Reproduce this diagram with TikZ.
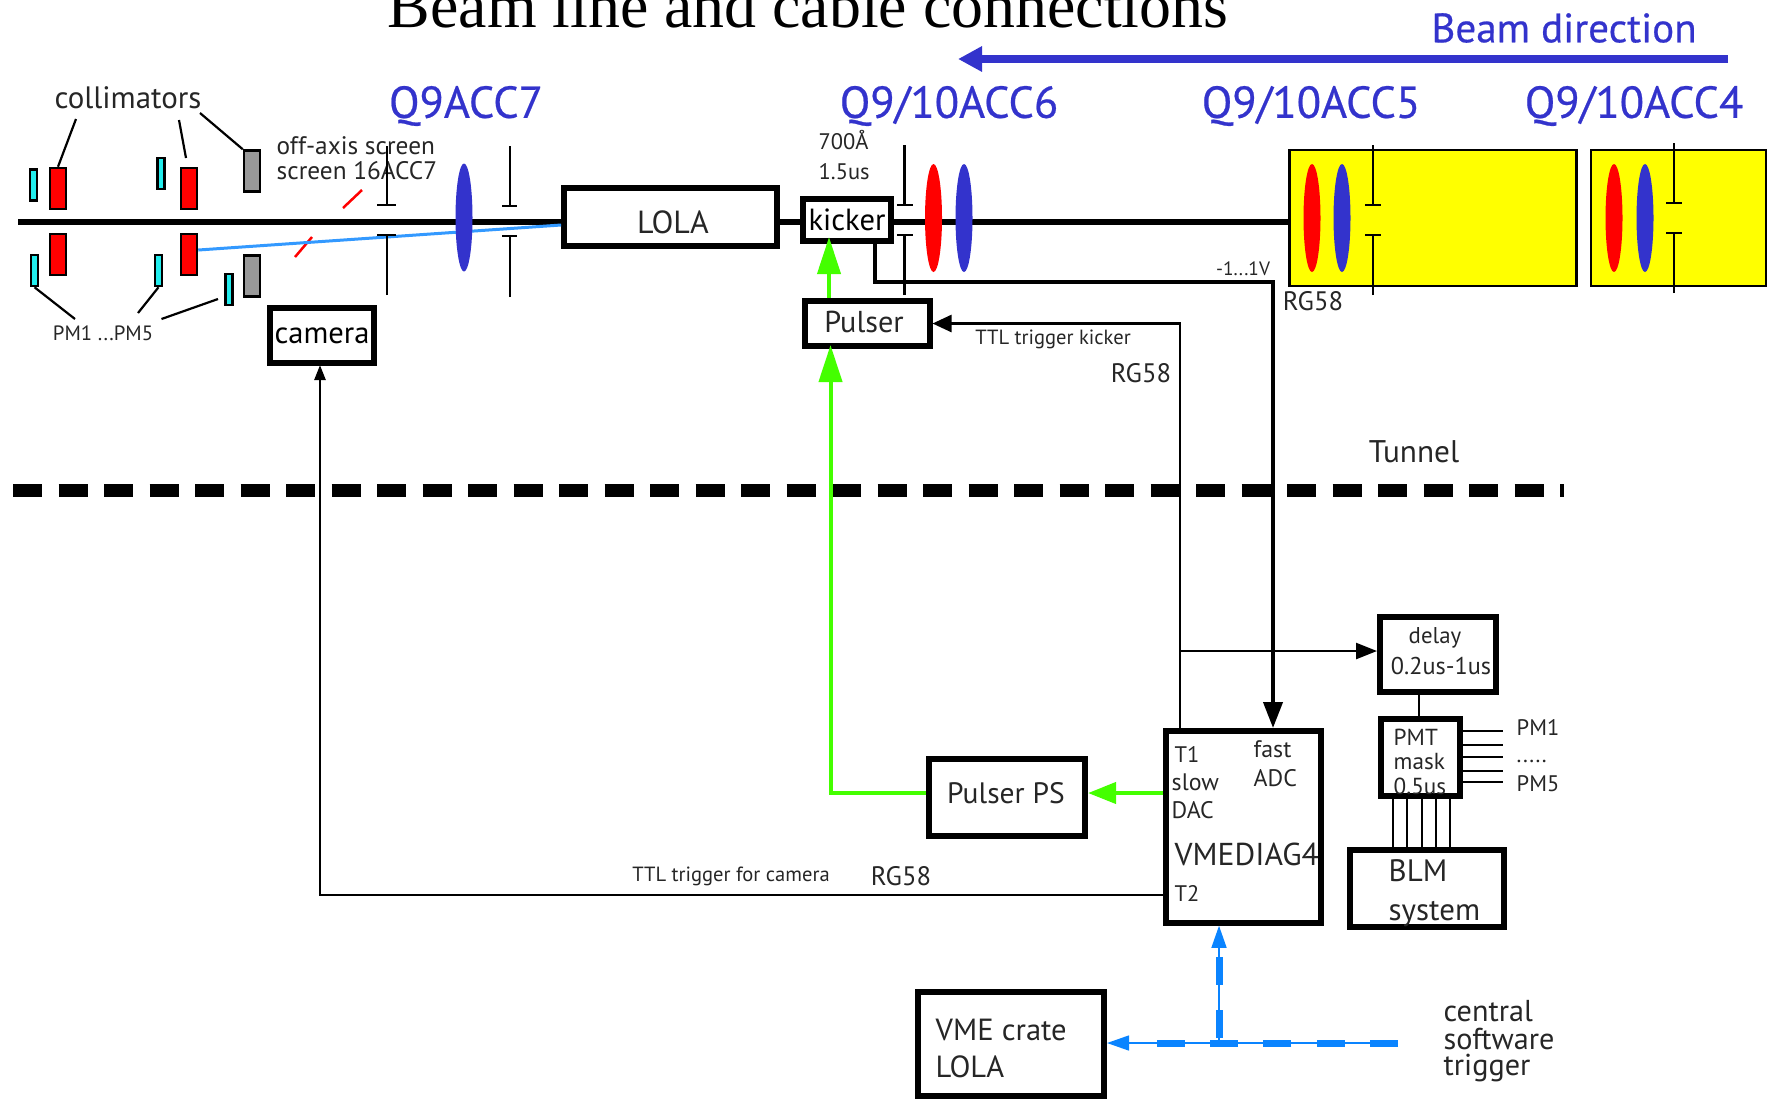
\documentclass[tikz,border=0pt]{standalone}
\usepackage{fontspec}
\setmainfont{PT Sans}
\newfontfamily\titlefont{Liberation Serif}
\newfontfamily\qfont[FakeBold=0.5]{PT Sans}
\usepackage{tikz}
\usetikzlibrary{positioning,calc,arrows.meta,shapes.geometric}
\definecolor{qblue}{HTML}{3333CC}
\definecolor{lensred}{HTML}{FF0000}
\definecolor{pmcyan}{HTML}{22EEEE}
\definecolor{collgray}{HTML}{999999}
\definecolor{magyellow}{HTML}{FFFF00}
\definecolor{pulsegreen}{HTML}{44FF00}
\definecolor{trigblue}{HTML}{0A84FF}
\definecolor{offblue}{HTML}{3399FF}

\begin{document}
\begin{tikzpicture}[
    x=0.1mm, y=-0.1mm,
    box/.style={draw, line width=0.6mm, inner sep=0pt, font=\fontsize{8.7}{10}\selectfont},
    lab/.style={inner sep=0pt, font=\fontsize{5.85}{7}\selectfont, text=black!85},
    rglab/.style={lab, font=\fontsize{7.6}{9}\selectfont},
    qlab/.style={inner sep=0pt, font=\qfont\fontsize{12.7}{15}\selectfont, text=qblue},
    coll/.style={draw, line width=0.25mm, inner sep=0pt, minimum width=1.6mm, minimum height=4.1mm},
    pmbar/.style={draw, line width=0.25mm, fill=pmcyan, inner sep=0pt, minimum width=0.7mm, minimum height=3.1mm},
    lens/.style={ellipse, inner sep=0pt, minimum width=1.7mm, minimum height=10.8mm},
    magnet/.style={draw, line width=0.25mm, fill=magyellow, inner sep=0pt, minimum height=13.6mm},
    beam/.style={line width=0.55mm},
    valve/.style={line width=0.22mm},
    leader/.style={line width=0.22mm},
    wire/.style={line width=0.25mm},
    thickwire/.style={line width=0.4mm},
    greenarr/.style={pulsegreen, line width=0.4mm, -{Triangle[length=3.7mm,width=2.3mm]}},
    trigarr/.style={trigblue, line width=0.15mm, -{Triangle[length=2.2mm,width=1.5mm]}},
    trigdash/.style={trigblue, line width=0.7mm, dash pattern=on 2.8mm off 2.53mm}
]
\useasboundingbox (0,0) rectangle (1771,1098);

\node[anchor=base west, inner sep=0pt, font=\titlefont\fontsize{18.17}{20}\selectfont] (title) at (387,27) {Beam line and cable connections};
\node[inner sep=0pt, font=\qfont\fontsize{11.7}{14}\selectfont, text=qblue] (beamdir) at (1564,28) {Beam direction};
\coordinate (beamdirend) at (1728,59);
\coordinate (beamdirtip) at (958,59);
\draw[qblue, line width=0.75mm, -{Triangle[length=2.4mm,width=2.4mm]}] (beamdirend) -- (beamdirtip);

\node[qlab] (q7) at (466,106) {Q9ACC7};
\node[qlab] (q6) at (949,106) {Q9/10ACC6};
\node[qlab] (q5) at (1311,106) {Q9/10ACC5};
\node[qlab] (q4) at (1634,106) {Q9/10ACC4};

\node[magnet, minimum width=28.7mm] (yellowa) at (1433,218) {};
\node[magnet, minimum width=17.5mm] (yellowb) at (1678.5,218) {};

\coordinate (beamstart) at (18,222);
\node[box, minimum width=21.25mm, minimum height=5.75mm] (lola) at (670.3,216.8) {};
\node[box, minimum width=8.8mm, minimum height=4.2mm] (kicker) at (847,220) {kicker};
\node[box, minimum width=12.5mm, minimum height=4.5mm] (pulser) at (867,323.5) {};
\node[box, minimum width=10.45mm, minimum height=5.5mm] (camera) at (322,335.5) {camera};
\node[box, minimum width=15.6mm, minimum height=7.7mm] (pulserps) at (1007,797.5) {};
\node[box, minimum width=15.45mm, minimum height=19.15mm] (vmediag) at (1243.7,827) {};
\node[box, minimum width=11.6mm, minimum height=7.5mm] (delay) at (1438,654.5) {};
\node[box, minimum width=7.9mm, minimum height=7.7mm] (pmt) at (1420.5,757.5) {};
\node[box, minimum width=15.35mm, minimum height=7.7mm] (blm) at (1427,888.5) {};
\node[box, minimum width=18.6mm, minimum height=10.4mm] (crate) at (1011,1043.5) {};

\node[lab, font=\fontsize{9.1}{10}\selectfont] (lolaname) at (673,222) {LOLA};
\node[lab, font=\fontsize{8.6}{10}\selectfont] (pulsername) at (864,322) {Pulser};
\node[lab, font=\fontsize{8.4}{10}\selectfont] (psname) at (1006,793) {Pulser PS};

\draw[beam] (beamstart) -- (lola.west |- beamstart);
\draw[beam] (lola.east |- beamstart) -- (kicker.west |- beamstart);
\draw[beam] (kicker.east |- beamstart) -- (yellowa.west |- beamstart);

\node[coll, fill=lensred] (colla) at (58,188.5) {};
\node[coll, fill=lensred] (collb) at (58,254.5) {};
\node[coll, fill=lensred] (collc) at (189,188.5) {};
\node[coll, fill=lensred] (colld) at (189,254.5) {};
\node[coll, fill=collgray] (colle) at (252,171) {};
\node[coll, fill=collgray] (collf) at (252,276) {};
\node[pmbar] (pma) at (33.5,185) {};
\node[pmbar] (pmb) at (34.5,270.5) {};
\node[pmbar] (pmc) at (161,173.5) {};
\node[pmbar] (pmd) at (158.5,270.5) {};
\node[pmbar] (pme) at (229,289.5) {};

\node[lab, font=\fontsize{8.8}{10}\selectfont] (collimators) at (128,98) {collimators};
\node[lab, font=\fontsize{5.9}{7}\selectfont] (pmrange) at (103,333) {PM1 ...PM5};
\coordinate (colltagc) at (186,158);
\coordinate (pmtage) at (218,299);
\draw[leader] (76,119) -- (colla.north);
\draw[leader] (179,120) -- (colltagc);
\draw[leader] (200,113) -- (colle.north west);
\draw[leader] (pmb.south) -- (75,319);
\draw[leader] (pmd.south) -- (138,313);
\draw[leader] (pmtage) -- (161.5,319);

\node[lab, anchor=west, font=\fontsize{7.2}{8}\selectfont] (offaxis) at (276,146) {off-axis screen};
\node[lab, anchor=west, font=\fontsize{7.2}{8}\selectfont] (screen) at (276,171) {screen 16ACC7};
\draw[lensred, line width=0.25mm] (343,208) -- (362,190);
\draw[lensred, line width=0.25mm] (295,257) -- (312,237);
\draw[offblue, line width=0.3mm] (colld.east |- 0,250) -- (lola.west |- 0,225);

\draw[valve] (387,146) -- (387,205) (377,205) -- (396,205);
\draw[valve] (387,295) -- (387,235) (377,235) -- (396,235);
\draw[valve] (510,146) -- (510,206) (502,206) -- (517,206);
\draw[valve] (510,297) -- (510,236) (502,236) -- (517,236);
\draw[valve] (904.5,145) -- (904.5,205) (897,205) -- (913,205);
\draw[valve] (904.5,295) -- (904.5,235) (897,235) -- (913,235);
\draw[valve] (1373,145) -- (1373,205) (1365,205) -- (1381,205);
\draw[valve] (1373,295) -- (1373,235) (1365,235) -- (1381,235);
\draw[valve] (1674,143) -- (1674,203) (1666,203) -- (1682,203);
\draw[valve] (1674,293) -- (1674,233) (1666,233) -- (1682,233);

\node[lens, fill=qblue] (lensq7) at (464,217.5) {};
\node[lens, fill=lensred] (lensq6r) at (933.5,218) {};
\node[lens, fill=qblue] (lensq6b) at (964,218) {};
\node[lens, fill=lensred] (lensq5r) at (1312,218) {};
\node[lens, fill=qblue] (lensq5b) at (1342,218) {};
\node[lens, fill=lensred] (lensq4r) at (1614,218) {};
\node[lens, fill=qblue] (lensq4b) at (1645,218) {};

\node[lab, anchor=west, font=\fontsize{6.4}{8}\selectfont] (energy) at (818,140) {700Å};
\node[lab, anchor=west, font=\fontsize{6.4}{8}\selectfont] (length) at (818,172) {1.5us};
\node[lab, font=\fontsize{5.5}{6}\selectfont] (voltage) at (1243,269) {-1...1V};
\node[rglab] (rgfive) at (1313,301) {RG58};
\node[lab] (ttlkicker) at (1053,339) {TTL trigger kicker};
\node[rglab] (rgkicker) at (1141,373) {RG58};
\node[lab] (ttlcamera) at (731,876) {TTL trigger for camera};
\node[rglab] (rgcamera) at (901,876) {RG58};

\node[inner sep=0pt, font=\fontsize{8.9}{10}\selectfont, text=black!85] (tunnel) at (1414,452) {Tunnel};
\coordinate (tunnela) at (13,490);
\coordinate (tunnelb) at (1564,490);
\draw[line width=1.3mm, dash pattern=on 2.9mm off 1.65mm] (tunnela) -- (tunnelb);

\node[lab, anchor=west, font=\fontsize{6.4}{8}\selectfont] (tone) at (1174,754) {T1};
\node[lab, anchor=west, font=\fontsize{6.8}{8}\selectfont] (slow) at (1171,782) {slow};
\node[lab, anchor=west, font=\fontsize{6.8}{8}\selectfont] (dac) at (1171,810) {DAC};
\node[lab, anchor=west, font=\fontsize{6.8}{8}\selectfont] (fast) at (1253,749) {fast};
\node[lab, anchor=west, font=\fontsize{6.8}{8}\selectfont] (adc) at (1253,778) {ADC};
\node[lab, anchor=west, font=\fontsize{9}{10}\selectfont] (vmename) at (1174,854) {VMEDIAG4};
\node[lab, anchor=west, font=\fontsize{6.4}{8}\selectfont] (ttwo) at (1174,893) {T2};
\node[lab, font=\fontsize{6.5}{8}\selectfont] (delayname) at (1435,638) {delay};
\node[lab, font=\fontsize{6.9}{8}\selectfont] (delayrange) at (1441,666) {0.2us-1us};
\node[lab, anchor=west, font=\fontsize{6.6}{7}\selectfont] (pmta) at (1393,737) {PMT};
\node[lab, anchor=west, font=\fontsize{6.6}{7}\selectfont] (pmtb) at (1393,761) {mask};
\node[lab, anchor=west, font=\fontsize{6.6}{7}\selectfont] (pmtc) at (1393,786) {0.5us};
\node[lab, anchor=west, font=\fontsize{6.4}{8}\selectfont] (pmone) at (1516,727) {PM1};
\node[lab, anchor=west, font=\fontsize{6.4}{8}\selectfont] (pmdots) at (1516,761) {.....};
\node[lab, anchor=west, font=\fontsize{6.4}{8}\selectfont] (pmfive) at (1516,784) {PM5};
\node[lab, anchor=west, font=\fontsize{8.8}{10}\selectfont] (blma) at (1388,871) {BLM};
\node[lab, anchor=west, font=\fontsize{8.8}{10}\selectfont] (blmb) at (1388,914) {system};
\node[lab, anchor=west, font=\fontsize{8.7}{10}\selectfont] (cratea) at (935,1030) {VME crate};
\node[lab, anchor=west, font=\fontsize{8.7}{10}\selectfont] (crateb) at (935,1067) {LOLA};
\node[lab, anchor=west, font=\fontsize{8.6}{9}\selectfont] (softa) at (1443,1011) {central};
\node[lab, anchor=west, font=\fontsize{8.6}{9}\selectfont] (softb) at (1443,1039) {software};
\node[lab, anchor=west, font=\fontsize{8.6}{9}\selectfont] (softc) at (1443,1068) {trigger};

\coordinate (slowport) at (1180,730);
\coordinate (adcport) at (1273,728);
\coordinate (kickerout) at (875,243);
\coordinate (camport) at (320,365);
\draw[thickwire, -{Triangle[length=2.6mm,width=1.9mm]}] (kickerout) |- (1273,282) -- (adcport);
\draw[wire, -{Triangle[length=1.9mm,width=1.7mm]}] (slowport) |- (pulser.east);
\draw[wire, -{Triangle[length=2.1mm,width=1.6mm]}] (slowport |- 0,651) -- (delay.west |- 0,651);
\draw[wire, -{Triangle[length=1.5mm,width=1.1mm]}] (vmediag.west |- 0,895) -| (camport);
\draw[wire] (delay.south -| 1419,0) -- (pmt.north -| 1419,0);

\draw[greenarr] (pulserps.west |- 0,793) -| (830.5,345);
\draw[greenarr] (829,298) -- (829,237);
\draw[greenarr, -{Triangle[length=2.8mm,width=2.1mm]}] (vmediag.west |- 0,793) -- (pulserps.east |- 0,793);

\draw[leader] (pmt.east |- 0,731) -- (1503,731);
\draw[leader] (pmt.east |- 0,745) -- (1503,745);
\draw[leader] (pmt.east |- 0,757) -- (1503,757);
\draw[leader] (pmt.east |- 0,771) -- (1503,771);
\draw[leader] (pmt.east |- 0,782) -- (1503,782);
\draw[leader] (1393,798) -- (1393,847);
\draw[leader] (1407,798) -- (1407,847);
\draw[leader] (1422,798) -- (1422,847);
\draw[leader] (1436,798) -- (1436,847);
\draw[leader] (1450,798) -- (1450,847);

\coordinate (softstart) at (1398,1043);
\coordinate (softjoin) at (1219,1043);
\draw[trigarr] (softstart) -- (crate.east |- softstart);
\draw[trigarr] (softjoin) -- (softjoin |- vmediag.south);
\draw[trigdash] (softstart) -- (1157,1043);
\draw[trigdash] (1219,1038) -- (1219,957);
\end{tikzpicture}
\end{document}
